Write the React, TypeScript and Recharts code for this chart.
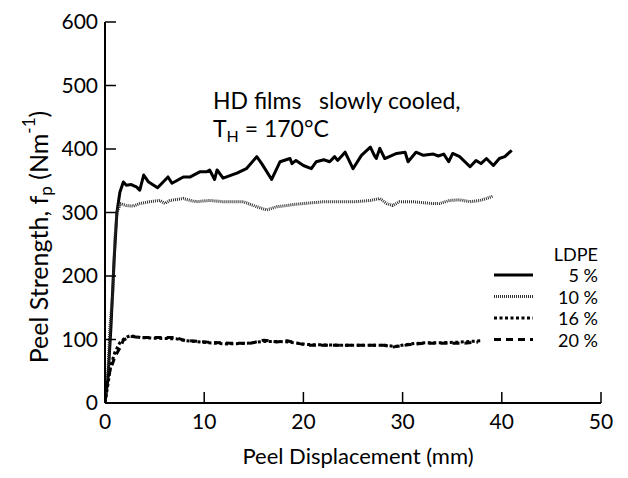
import React from 'react';
import { LineChart, Line, XAxis, YAxis, Legend } from 'recharts';

// ---- data (Peel displacement mm, peel strength N/m) ----
const xTicks = [0, 10, 20, 30, 40, 50];
const yTicks = [0, 100, 200, 300, 400, 500, 600];

const ldpe5 = [
  [0, 0], [0.3, 40], [0.6, 120], [0.9, 220], [1.2, 300], [1.5, 332], [1.85, 348], [2.15, 343], [2.65, 344],
  [3.2, 340], [3.5, 335], [3.9, 359], [4.4, 348], [5.3, 339], [6.35, 356], [6.75, 346], [7.9, 356], [8.6, 356],
  [9.55, 364], [10.25, 364], [10.55, 367], [11.05, 352], [11.3, 367], [11.9, 354], [13.3, 362], [14.25, 369],
  [15.3, 388], [15.8, 377], [16.8, 352], [17.65, 380], [18.65, 385], [18.85, 377], [19.25, 382], [20.0, 374],
  [20.8, 369], [21.3, 380], [22.05, 383], [22.65, 380], [23.15, 388], [23.45, 382], [24.2, 395], [25.0, 369],
  [25.85, 390], [26.75, 403], [27.15, 390], [27.35, 385], [27.7, 401], [28.2, 385], [29.4, 393], [30.25, 395],
  [30.55, 380], [31.35, 395], [32.1, 390], [33.1, 392], [33.6, 389], [34.15, 392], [34.65, 380], [35.05, 393],
  [35.75, 388], [36.8, 372], [37.4, 382], [37.9, 377], [38.45, 385], [39.15, 374], [39.75, 385], [40.3, 388],
  [41.0, 398],
];

const ldpe10 = [
  [0, 0], [0.3, 50], [0.5, 120], [0.8, 175], [1.0, 260], [1.2, 299], [1.55, 314], [2.15, 311], [2.85, 310],
  [3.5, 314], [4.5, 317], [5.55, 319], [6.05, 314], [6.55, 319], [7.9, 322], [8.6, 319], [9.2, 317], [10.55, 319],
  [11.9, 317], [13.95, 317], [15.3, 309], [16.3, 304], [17.3, 309], [19.25, 313], [22.05, 317], [24.0, 317],
  [25.3, 317], [26.75, 319], [27.7, 322], [28.4, 314], [29.0, 311], [29.7, 317], [31.05, 317], [33.1, 314],
  [33.7, 314], [34.75, 319], [35.75, 320], [36.8, 317], [37.8, 319], [38.45, 322], [39.15, 326],
];

const ldpe16 = [
  [0, 0], [0.3, 30], [0.6, 60], [1.0, 80], [1.5, 95], [2.05, 103], [2.55, 106], [3.6, 103], [5.1, 102],
  [7.2, 101], [8.2, 98], [10.25, 95], [12.3, 93], [14.35, 94], [16.0, 97], [17.4, 97], [18.45, 96], [20.5, 92],
  [23.6, 91], [25.6, 91], [28.2, 91], [29.2, 89], [30.75, 93], [32.3, 95], [33.8, 95], [35.9, 96], [37.9, 98],
];

const ldpe20 = [
  [0, 4], [0.3, 41], [1.0, 73], [1.55, 88], [1.85, 99], [2.55, 105], [3.5, 103], [5.2, 103], [7.2, 103],
  [7.9, 99], [10.25, 96], [12.6, 94], [14.65, 94], [16.0, 99], [17.3, 96], [18.35, 98], [20.3, 91], [23.7, 91],
  [25.3, 91], [28.1, 91], [29.0, 88], [30.75, 92], [32.1, 94], [34.15, 94], [36.1, 94], [37.6, 96],
];

const seriesNames = ['5 %', '10 %', '16 %', '20 %'];
const seriesData = [ldpe5, ldpe10, ldpe16, ldpe20];
const seriesColors = ['#000000', '#333333', '#000000', '#000000'];
const seriesWidths = [3, 3, 3, 3];
const seriesDash = [undefined, '1 1', '3 2.5', '7 5'];

const toPoints = (arr: number[][]) => arr.map(([x, y]) => ({ x, y }));

const FONT = 'Lato, "Open Sans", sans-serif';

const EmptyTick = () => <g />;

const LegendBox = () => (
  <svg width={130} height={115} style={{ display: 'block', overflow: 'visible' }}>
    <text x={118} y={12} textAnchor="end" dominantBaseline="central" fontSize={18} fontFamily={FONT} fill="#000">
      LDPE
    </text>
    {seriesNames.map((n, i) => {
      const cy = 33 + i * 21.5;
      return (
        <g key={n}>
          <line x1={14} x2={53} y1={cy} y2={cy} stroke={seriesColors[i]} strokeWidth={seriesWidths[i]}
            strokeDasharray={seriesDash[i]} />
          <text x={118} y={cy} textAnchor="end" dominantBaseline="central" fontSize={18} fontFamily={FONT} fill="#000">
            {n}
          </text>
        </g>
      );
    })}
  </svg>
);

export default function App() {
  const tickStyle = { fontSize: 21, fontFamily: FONT, fill: '#000' };
  return (
    <div style={{ position: 'relative', width: 620, height: 470 }}>
      <LineChart width={620} height={470} margin={{ top: 14, right: 27, bottom: 35, left: 47 }}>
        <XAxis xAxisId="b" type="number" dataKey="x" domain={[0, 50]} ticks={xTicks} allowDataOverflow
          orientation="bottom" height={40} tickSize={-11} tickMargin={22} tick={tickStyle}
          axisLine={{ stroke: '#000', strokeWidth: 2 }} tickLine={{ stroke: '#000', strokeWidth: 1.5 }} />
        <XAxis xAxisId="t" type="number" dataKey="x" domain={[0, 50]} ticks={xTicks} allowDataOverflow
          orientation="top" height={0} tickSize={-11} tick={<EmptyTick />}
          axisLine={{ stroke: '#000', strokeWidth: 2 }} tickLine={{ stroke: '#000', strokeWidth: 1.5 }} />
        <YAxis yAxisId="l" type="number" domain={[0, 600]} ticks={yTicks} allowDataOverflow
          orientation="left" width={50} tickSize={-11} tickMargin={18} tick={tickStyle}
          axisLine={{ stroke: '#000', strokeWidth: 2 }} tickLine={{ stroke: '#000', strokeWidth: 1.5 }} />
        <YAxis yAxisId="r" type="number" domain={[0, 600]} ticks={yTicks} allowDataOverflow
          orientation="right" width={0} tickSize={-11} tick={<EmptyTick />}
          axisLine={{ stroke: '#000', strokeWidth: 2 }} tickLine={{ stroke: '#000', strokeWidth: 1.5 }} />
        {seriesData.map((d, i) => (
          <Line key={seriesNames[i]} name={seriesNames[i]} xAxisId="b" yAxisId="l" data={toPoints(d)}
            dataKey="y" type="linear" stroke={seriesColors[i]} strokeWidth={seriesWidths[i]}
            strokeDasharray={seriesDash[i]} dot={false} activeDot={false} isAnimationActive={false}
            strokeLinejoin="round" />
        ))}
        <Legend layout="horizontal" verticalAlign="middle" align="center" content={() => <LegendBox />}
          wrapperStyle={{ position: 'absolute', left: 472, top: 234, width: 130, height: 115 }} />
      </LineChart>
      <svg width={620} height={470} style={{ position: 'absolute', left: 0, top: 0, pointerEvents: 'none' }}>
        <text x={205} y={92} dominantBaseline="central" fontSize={23} fontFamily={FONT} fill="#000">
          HD films{'\u00a0\u00a0\u00a0'}slowly cooled,
        </text>
        <text x={205} y={120} dominantBaseline="central" fontSize={23} fontFamily={FONT} fill="#000">
          T<tspan fontSize={16} dy={7}>H</tspan><tspan dy={-7}> = 170°C</tspan>
        </text>
        <text x={350} y={456} textAnchor="middle" fontSize={22} fontFamily={FONT} fill="#000">
          Peel Displacement (mm)
        </text>
        <text transform="translate(30,229) rotate(-90)" textAnchor="middle" dominantBaseline="central"
          fontSize={25} fontFamily={FONT} fill="#000">
          Peel Strength, f<tspan fontSize={17} dy={7}>p</tspan><tspan dy={-7}> (Nm</tspan>
          <tspan fontSize={17} dy={-10}>-1</tspan><tspan dy={10}>)</tspan>
        </text>
      </svg>
    </div>
  );
}
